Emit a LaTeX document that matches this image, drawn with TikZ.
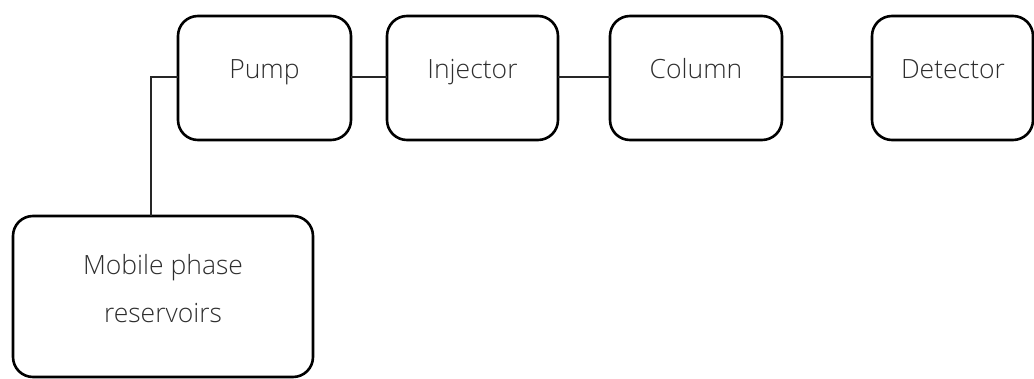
\documentclass[tikz,border=0pt]{standalone}
\usepackage{fontspec}
\newfontfamily\labelfont{Open Sans Light}
\definecolor{labelgray}{HTML}{2E2E2E}
\begin{document}
\begin{tikzpicture}[x=1pt,y=-1pt,
  unit/.style={draw=black,line width=2.6pt,rounded corners=20pt},
  link/.style={draw=black!85,line width=1.3pt},
  lbl/.style={font=\labelfont\fontsize{26.5}{48}\selectfont,text=labelgray,anchor=base,align=center,inner sep=0pt}]
\useasboundingbox (0,0) rectangle (1034,379);
% component boxes
\path[unit] (178,16) rectangle (351,140);
\path[unit] (387,16) rectangle (558,140);
\path[unit] (610,16) rectangle (782,140);
\path[unit] (872,16) rectangle (1033,140);
\path[unit] (13,216) rectangle (313,377);
% anchors on box edges
\coordinate (pumpL) at (178,77);
\coordinate (pumpR) at (351,77);
\coordinate (injL) at (387,77);
\coordinate (injR) at (558,77);
\coordinate (colL) at (610,77);
\coordinate (colR) at (782,77);
\coordinate (detL) at (872,77);
\coordinate (resT) at (151,216);
\coordinate (bend) at (151,77);
% labels
\node[lbl] (pump) at (264.5,79) {Pump};
\node[lbl] (inj) at (472.5,79) {Injector};
\node[lbl] (col) at (696,79) {Column};
\node[lbl] (det) at (953,79) {Detector};
\node[lbl] (res1) at (163,275) {Mobile phase};
\node[lbl] (res2) at (163,323) {reservoirs};
% tubing between units
\draw[link] (resT) -- (bend) -- (pumpL);
\draw[link] (pumpR) -- (injL);
\draw[link] (injR) -- (colL);
\draw[link] (colR) -- (detL);
\end{tikzpicture}
\end{document}
